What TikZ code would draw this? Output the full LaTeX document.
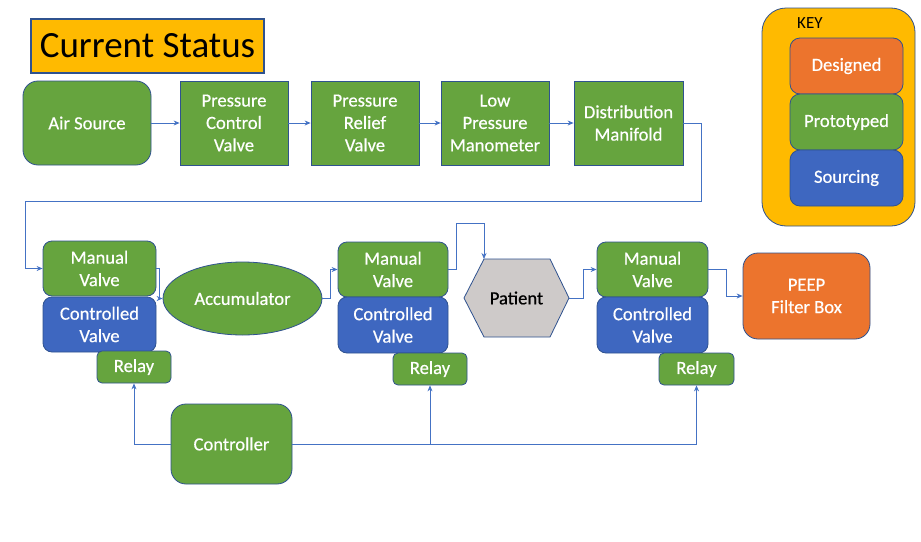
\documentclass[tikz,border=0pt]{standalone}
\usepackage{fontspec}
\setmainfont{Carlito}
\newfontface\lblfont{Carlito}[FakeBold=0.5]
\usetikzlibrary{arrows.meta,shapes.geometric,calc}
\definecolor{gold}{RGB}{255,186,0}
\definecolor{bord}{RGB}{47,82,143}
\definecolor{grn}{RGB}{102,164,62}
\definecolor{blu}{RGB}{62,103,192}
\definecolor{orng}{RGB}{236,116,45}
\definecolor{gry}{RGB}{206,202,201}
\definecolor{conn}{RGB}{68,114,196}
\tikzset{
  box/.style={draw=bord, line width=0.8pt, text=white, align=center, inner sep=0pt,
    font=\lblfont\fontsize{18.6}{22.4}\selectfont},
  gbox/.style={box, fill=grn},
  bbox/.style={box, fill=blu},
  obox/.style={box, fill=orng},
  wire/.style={draw=conn, line width=0.8pt},
  arr/.style={wire, -{Stealth[length=6pt,width=5pt]}}
}
\begin{document}
\begin{tikzpicture}[x=1pt,y=-1pt]
\useasboundingbox[fill=white] (0,0) rectangle (921,541);
% title
\node[draw=bord, line width=2pt, fill=gold, minimum width=233pt, minimum height=54pt, inner sep=0pt,
  font=\fontsize{37}{40}\selectfont] (title) at (147.5,46) {Current Status};
% top row
\node[gbox, rounded corners=15pt, minimum width=128pt, minimum height=84pt] (air) at (87,123) {Air Source};
\node[gbox, minimum width=108pt, minimum height=84pt] (pcv) at (234,123) {Pressure\\Control\\Valve};
\node[gbox, minimum width=108pt, minimum height=84pt] (prv) at (365,123) {Pressure\\Relief\\Valve};
\node[gbox, minimum width=108pt, minimum height=84pt] (lpm) at (495,123) {Low\\Pressure\\Manometer};
\node[gbox, minimum width=109pt, minimum height=84pt] (dm) at (628.5,123) {Distribution\\Manifold};
% group 1
\node[gbox, rounded corners=9pt, minimum width=113pt, minimum height=55pt] (mv1) at (99.5,268.5) {Manual\\Valve};
\node[bbox, rounded corners=9pt, minimum width=113pt, minimum height=55pt] (cv1) at (99.5,324.5) {Controlled\\Valve};
\node[gbox, rounded corners=5pt, minimum width=74pt, minimum height=32pt] (relay1) at (134,367) {Relay};
\node[gbox, ellipse, minimum width=159pt, minimum height=73pt] (acc) at (242.5,298.5) {Accumulator};
% group 2
\node[gbox, rounded corners=9pt, minimum width=110pt, minimum height=55pt] (mv2) at (393,269.5) {Manual\\Valve};
\node[bbox, rounded corners=9pt, minimum width=110pt, minimum height=56pt] (cv2) at (393,325) {Controlled\\Valve};
\node[gbox, rounded corners=5pt, minimum width=74pt, minimum height=32pt] (relay2) at (430,369) {Relay};
% patient
\coordinate (pl) at (464,298);
\coordinate (ptl) at (484,259);
\coordinate (ptr) at (550,259);
\coordinate (pr) at (569,298);
\coordinate (pbr) at (550,337);
\coordinate (pbl) at (484,337);
\draw[draw=bord, line width=0.8pt, fill=gry] (pl) -- (ptl) -- (ptr) -- (pr) -- (pbr) -- (pbl) -- cycle;
\node[font=\lblfont\fontsize{18.6}{22.4}\selectfont, text=black] (pat) at (516.5,298) {Patient};
% group 3
\node[gbox, rounded corners=9pt, minimum width=111pt, minimum height=55pt] (mv3) at (652.5,269.5) {Manual\\Valve};
\node[bbox, rounded corners=9pt, minimum width=111pt, minimum height=56pt] (cv3) at (652.5,325) {Controlled\\Valve};
\node[gbox, rounded corners=5pt, minimum width=75pt, minimum height=32pt] (relay3) at (696.5,369) {Relay};
\node[obox, rounded corners=15pt, minimum width=127pt, minimum height=86pt] (peep) at (806.5,296) {PEEP\\Filter Box};
% controller
\node[gbox, rounded corners=15pt, minimum width=121pt, minimum height=80pt] (ctrl) at (231.5,444) {Controller};
% key
\node[draw=bord, line width=0.8pt, fill=gold, rounded corners=24pt, minimum width=153pt, minimum height=218pt] (key) at (838.5,117) {};
\node[font=\fontsize{17}{20}\selectfont, text=black, anchor=west, inner sep=0pt] (keyl) at (797,23) {KEY};
\node[obox, rounded corners=10pt, minimum width=113pt, minimum height=56pt] (des) at (846.5,66) {Designed};
\node[gbox, rounded corners=10pt, minimum width=113pt, minimum height=56pt] (pro) at (846.5,122) {Prototyped};
\node[bbox, rounded corners=10pt, minimum width=113pt, minimum height=56pt] (src) at (846.5,178) {Sourcing};
% connectors
\draw[arr] (air.east) -- (pcv.west);
\draw[arr] (pcv.east) -- (prv.west);
\draw[arr] (prv.east) -- (lpm.west);
\draw[arr] (lpm.east) -- (dm.west);
\coordinate (c1) at (25,201);
\draw[arr] (dm.east) -- ++(18,0) |- (c1) |- (mv1.west);
\draw[arr] (mv1.east) -- ++(3,0) |- (acc.west);
\draw[arr] (acc.east) -- ++(8,0) |- (mv2.west);
\coordinate (c2) at (456,223);
\draw[arr] (mv2.east) -| (c2) -| (ptl);
\draw[arr] (pr) -- ++(14,0) |- (mv3.west);
\draw[arr] (mv3.east) -- ++(18,0) |- (peep.west);
\draw[arr] (ctrl.west) -| (relay1.south);
\draw[arr] (ctrl.east) -| (relay2.south);
\draw[arr] (ctrl.east) -| (relay3.south);
\end{tikzpicture}
\end{document}
